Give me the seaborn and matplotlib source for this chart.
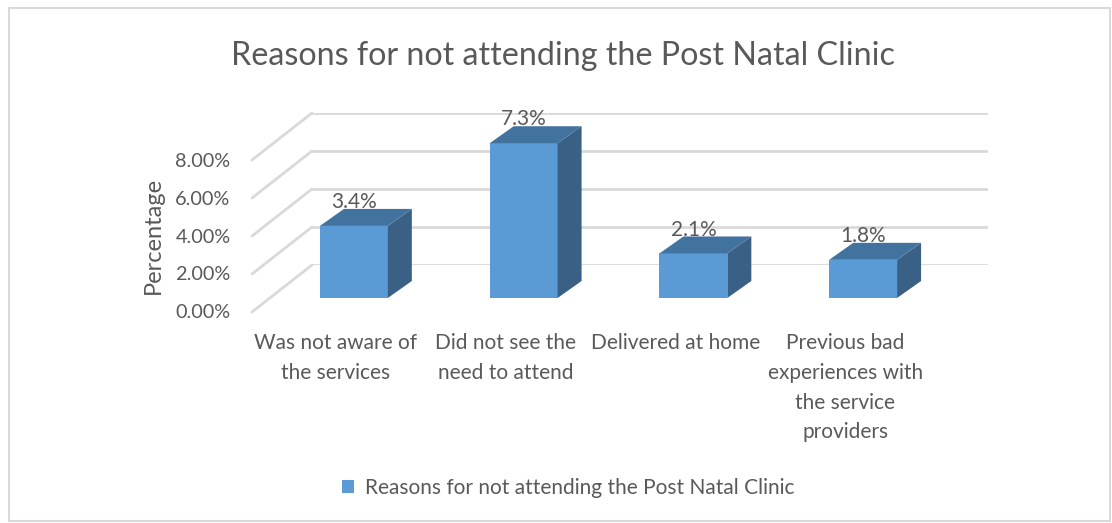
import matplotlib
matplotlib.use("Agg")
import matplotlib.pyplot as plt
import seaborn as sns
from matplotlib.patches import Polygon, Rectangle

# ---------------- data ----------------
categories = [
    "Was not aware of\nthe services",
    "Did not see the\nneed to attend",
    "Delivered at home",
    "Previous bad\nexperiences with\nthe service\nproviders",
]
values = [3.4, 7.3, 2.1, 1.8]          # percent
value_labels = ["3.4%", "7.3%", "2.1%", "1.8%"]
y_ticks = [0, 2, 4, 6, 8]
y_tick_labels = ["0.00%", "2.00%", "4.00%", "6.00%", "8.00%"]
title = "Reasons for not attending the Post Natal Clinic"
legend_label = "Reasons for not attending the Post Natal Clinic"
y_label = "Percentage"

# ---------------- style ----------------
sns.set_style("white")
plt.rcParams["font.family"] = ["Lato", "DejaVu Sans"]
TEXT = "#595959"
FRONT = "#5B9BD5"
TOP = "#42729E"
SIDE = "#3A6086"
GRID = "#D9D9D9"

W, H = 1112, 523
fig = plt.figure(figsize=(W / 100, H / 100), dpi=100)


def pos(left, top, right, bottom):
    return [left / W, 1 - bottom / H, (right - left) / W, (bottom - top) / H]


# back wall with gridlines
ax_wall = fig.add_axes(pos(312, 113, 988, 265))
ax_wall.set_ylim(0, 8)
ax_wall.set_xlim(0, 1)
ax_wall.set_yticks(y_ticks)
ax_wall.yaxis.grid(True, color=GRID, linewidth=2)
ax_wall.tick_params(left=False, bottom=False, labelleft=False, labelbottom=False)
for s in ax_wall.spines.values():
    s.set_visible(False)
ax_wall.patch.set_alpha(0)

# diagonal floor/side lines from back wall to the front
DX, DY = -60, -47  # pixels (display, y up)
for v in y_ticks:
    x1, y1 = ax_wall.transData.transform((0, v))
    p1 = fig.transFigure.inverted().transform((x1, y1))
    p0 = fig.transFigure.inverted().transform((x1 + DX, y1 + DY))
    fig.add_artist(plt.Line2D([p0[0], p1[0]], [p0[1], p1[1]],
                              transform=fig.transFigure, color=GRID, linewidth=2))

# tick label axis (front edge)
ax_lab = fig.add_axes(pos(252, 160, 262, 311))
ax_lab.set_ylim(0, 8)
ax_lab.set_yticks(y_ticks, labels=y_tick_labels)
ax_lab.tick_params(left=False, bottom=False, labelbottom=False, pad=12,
                   labelsize=14.3, labelcolor=TEXT)
ax_lab.set_ylabel(y_label, fontsize=17, color=TEXT, labelpad=8)
for s in ax_lab.spines.values():
    s.set_visible(False)
ax_lab.patch.set_alpha(0)

# bars
ax = fig.add_axes(pos(269, 86, 948, 298))
sns.barplot(x=list(range(len(values))), y=values, ax=ax, color=FRONT,
            width=0.4, saturation=1, linewidth=0, native_scale=False)
ax.set_xlim(-0.5, 3.5)
ax.set_ylim(0, 10)
ax.set_xlabel("")
ax.set_ylabel("")
ax.tick_params(left=False, bottom=False, labelleft=False, labelbottom=False)
for s in ax.spines.values():
    s.set_visible(False)
ax.patch.set_alpha(0)

ddx = 24 / 169.7
ddy = 17 / 21.2
for p in ax.patches:
    x0 = p.get_x()
    x1 = x0 + p.get_width()
    h = p.get_height()
    side = Polygon([(x1, 0), (x1 + ddx, ddy), (x1 + ddx, h + ddy), (x1, h)],
                   closed=True, facecolor=SIDE, edgecolor="none")
    top = Polygon([(x0, h), (x1, h), (x1 + ddx, h + ddy), (x0 + ddx, h + ddy)],
                  closed=True, facecolor=TOP, edgecolor="none")
    ax.add_patch(side)
    ax.add_patch(top)

ax.bar_label(ax.containers[0], labels=value_labels, padding=10,
             fontsize=15, color=TEXT)

# category labels (front edge of floor)
ax_cat = fig.add_axes(pos(269 - 18, 86, 948 - 18, 298))
ax_cat.set_xlim(-0.5, 3.5)
ax_cat.set_ylim(0, 10)
ax_cat.set_xticks(range(len(categories)), labels=categories)
ax_cat.tick_params(left=False, bottom=False, labelleft=False, pad=22,
                   labelsize=15, labelcolor=TEXT)
for lbl in ax_cat.get_xticklabels():
    lbl.set_linespacing(1.6)
for s in ax_cat.spines.values():
    s.set_visible(False)
ax_cat.patch.set_alpha(0)

# title
fig.text(563 / W, 1 - 56 / H, title, ha="center", va="center",
         fontsize=23.2, color=TEXT)

# legend
fig.legend([ax.patches[0]], [legend_label], loc="center",
           bbox_to_anchor=(568 / W, 1 - 488 / H), frameon=False,
           fontsize=15, labelcolor=TEXT, handlelength=0.6, handleheight=0.6,
           handletextpad=0.5)

# chart border
fig.add_artist(Rectangle((9 / W, 1 - 521 / H), (1110 - 9) / W, (521 - 8) / H,
                         transform=fig.transFigure, fill=False,
                         edgecolor=GRID, linewidth=1.5))

fig.savefig("out.png", dpi=100)
